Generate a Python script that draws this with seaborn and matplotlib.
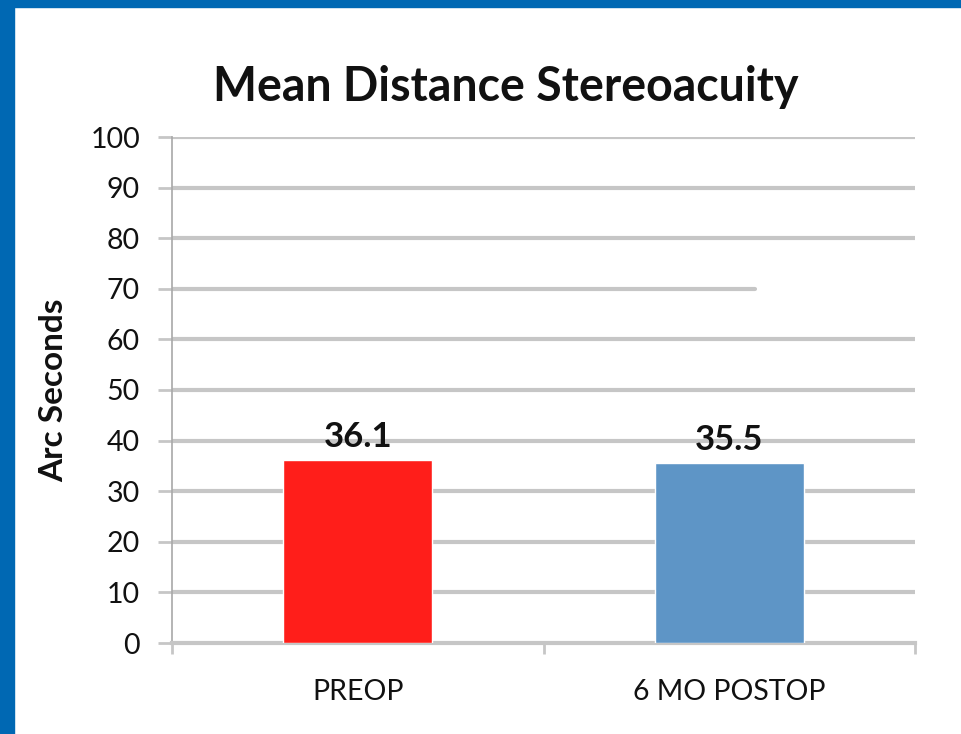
import matplotlib
matplotlib.use("Agg")
import matplotlib.pyplot as plt
import seaborn as sns
import pandas as pd
from matplotlib.patches import Rectangle

categories = ["PREOP", "6 MO POSTOP"]
values = [36.1, 35.5]
value_labels = ["36.1", "35.5"]
yticks = [0, 10, 20, 30, 40, 50, 60, 70, 80, 90, 100]
colors = ["#FF1E1A", "#5E95C6"]

sns.set_theme(style="white")
plt.rcParams["font.family"] = ["Lato", "DejaVu Sans"]

df = pd.DataFrame({"cat": categories, "val": values})

fig = plt.figure(figsize=(9.61, 7.34), dpi=100)
fig.patch.set_facecolor("white")
ax = fig.add_axes([172 / 961, 1 - 643 / 734, 743 / 961, 506 / 734])

sns.barplot(data=df, x="cat", y="val", hue="cat", palette=colors, width=0.4,
            legend=False, ax=ax, saturation=1, zorder=3)

ax.set_xlim(-0.5, 1.5)
ax.set_ylim(0, 100)
ax.set_yticks(yticks)
ax.set_yticklabels([str(t) for t in yticks], fontsize=20.5)
grid_color = "#C6C6C6"
for t in yticks[1:]:
    xmax = (755 - 172) / 743 if t == 70 else 1.0
    ax.axhline(t, xmin=0, xmax=xmax, color=grid_color, lw=3, zorder=1)

ax.tick_params(axis="y", which="major", length=10, width=2, color=grid_color,
               pad=13, left=True, labelcolor="#111111")
ax.set_xticks([0, 1])
ax.set_xticklabels(categories, fontsize=20.5)
ax.set_xticks([-0.5, 0.5, 1.5], minor=True)
ax.tick_params(axis="x", which="major", length=0, pad=26, labelcolor="#111111")
ax.tick_params(axis="x", which="minor", length=8, width=2, color=grid_color,
               bottom=True)

for s in ["top", "right"]:
    ax.spines[s].set_visible(False)
ax.spines["left"].set_color("#A8A8A8")
ax.spines["left"].set_linewidth(1.2)
ax.spines["bottom"].set_color(grid_color)
ax.spines["bottom"].set_linewidth(3)

for i, (v, lab) in enumerate(zip(values, value_labels)):
    ax.annotate(lab, (i, v), xytext=(0, 5), textcoords="offset points",
                ha="center", va="bottom", fontsize=25, fontweight="bold",
                color="#111111")

ax.set_xlabel("")
ax.set_ylabel("Arc Seconds", fontsize=24, fontweight="bold", labelpad=16,
              color="#111111")

fig.text(506 / 961, 1 - 87 / 734, "Mean Distance Stereoacuity", ha="center",
         va="center", fontsize=33.5, fontweight="bold", color="#111111")

# blue slide frame
fig.patches.append(Rectangle((0, 0), 14 / 961, 1, transform=fig.transFigure,
                             color="#0068B3", zorder=10))
fig.patches.append(Rectangle((0, 1 - 7 / 734), 1, 7 / 734,
                             transform=fig.transFigure, color="#0068B3",
                             zorder=10))

fig.savefig("out.png", dpi=100, facecolor="white")
